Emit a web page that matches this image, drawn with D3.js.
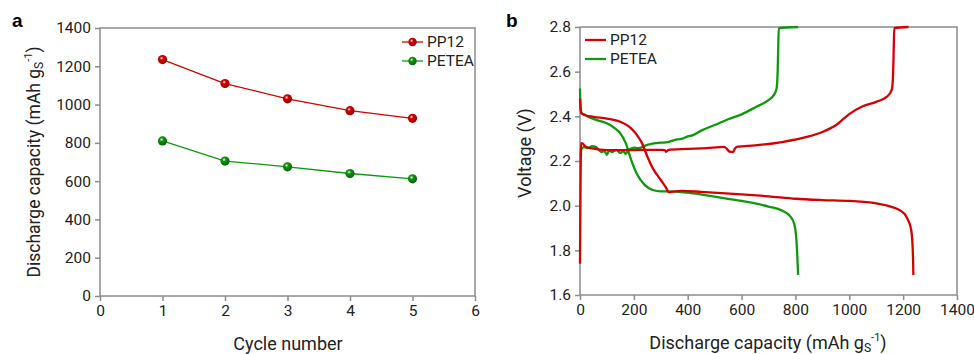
<!DOCTYPE html>
<html>
<head>
<meta charset="utf-8">
<script src="https://cdn.jsdelivr.net/npm/d3@7"></script>
<style>
  body { margin: 0; background: #fff; }
  svg { font-family: Roboto, "Noto Sans", sans-serif; }
</style>
</head>
<body>
<div class="container"></div>
<script>
// ---- data: panel a (capacity per cycle) ----
const cycles = [1, 2, 3, 4, 5];
const capPP12 = [1235, 1110, 1030, 968, 928];
const capPETEA = [810, 705, 675, 640, 612];
const seriesNames = ["PP12", "PETEA"];

// ---- data: panel b (voltage profiles), [capacity, voltage] ----
const pp12Discharge = [[0, 2.48], [2, 2.44], [5, 2.415], [20, 2.405], [50, 2.398], [100, 2.39], [150, 2.376], [180, 2.356],
  [200, 2.333], [215, 2.31], [230, 2.28], [250, 2.22], [270, 2.168], [300, 2.115], [320, 2.08], [330, 2.06],
  [345, 2.063], [380, 2.066], [450, 2.062], [600, 2.051], [700, 2.042], [800, 2.031], [900, 2.025], [1000, 2.021],
  [1100, 2.01], [1150, 1.997], [1190, 1.978], [1210, 1.955], [1222, 1.925], [1230, 1.89], [1235, 1.82], [1237, 1.75], [1238, 1.69]];
const pp12Charge = [[0, 1.74], [2, 2.1], [4, 2.28], [10, 2.278], [20, 2.265], [50, 2.255], [100, 2.249], [200, 2.249],
  [300, 2.25], [315, 2.249], [320, 2.241], [328, 2.25], [400, 2.254], [470, 2.258], [535, 2.263], [545, 2.255],
  [555, 2.242], [568, 2.24], [575, 2.255], [585, 2.264], [650, 2.27], [750, 2.285], [850, 2.31], [900, 2.33],
  [950, 2.36], [1000, 2.41], [1050, 2.445], [1100, 2.465], [1140, 2.488], [1158, 2.52], [1163, 2.6], [1165, 2.7],
  [1167, 2.795], [1220, 2.8]];
const peteaDischarge = [[0, 2.525], [2, 2.44], [6, 2.415], [20, 2.405], [50, 2.388], [100, 2.369], [130, 2.346],
  [150, 2.324], [170, 2.28], [190, 2.205], [210, 2.145], [240, 2.093], [270, 2.07], [300, 2.064], [330, 2.064],
  [400, 2.058], [500, 2.04], [600, 2.021], [700, 1.996], [750, 1.978], [780, 1.953], [795, 1.92], [802, 1.87],
  [806, 1.8], [810, 1.69]];
const peteaCharge = [[2, 2.22], [6, 2.255], [15, 2.262], [30, 2.258], [45, 2.266], [60, 2.262], [70, 2.25], [80, 2.24],
  [90, 2.245], [100, 2.228], [108, 2.246], [120, 2.24], [135, 2.25], [150, 2.236], [160, 2.244], [170, 2.232],
  [180, 2.25], [190, 2.256], [200, 2.26], [215, 2.257], [250, 2.272], [300, 2.282], [320, 2.283], [350, 2.294],
  [380, 2.3], [400, 2.31], [420, 2.316], [450, 2.336], [500, 2.361], [550, 2.387], [600, 2.409], [650, 2.44],
  [700, 2.473], [720, 2.496], [730, 2.525], [734, 2.6], [736, 2.7], [738, 2.795], [810, 2.8]];

// ticks
const aXTicks = [0, 1, 2, 3, 4, 5, 6];
const aYTicks = [0, 200, 400, 600, 800, 1000, 1200, 1400];
const bXTicks = [0, 200, 400, 600, 800, 1000, 1200, 1400];
const bYTicks = [1.6, 1.8, 2.0, 2.2, 2.4, 2.6, 2.8];

const width = 974, height = 354;
const red = "#d50000", green = "#0e980e";
const axisGray = "#8c8c8c";

const svg = d3.select(".container")
  .append("svg")
  .attr("width", width)
  .attr("height", height);

// sphere-like marker gradients
const defs = svg.append("defs");
function sphere(id, base, dark) {
  const g = defs.append("radialGradient").attr("id", id)
    .attr("cx", "40%").attr("cy", "35%").attr("r", "65%");
  g.append("stop").attr("offset", "0%").attr("stop-color", "#fff");
  g.append("stop").attr("offset", "30%").attr("stop-color", base);
  g.append("stop").attr("offset", "100%").attr("stop-color", dark);
}
sphere("gRed", red, "#9a0000");
sphere("gGreen", green, "#066006");

// draw a framed axes box with outward ticks
function frame(x, y, xTicks, yTicks, xFmt, yFmt) {
  const [x0, x1] = x.range();
  const [y0, y1] = y.range();
  svg.append("rect")
    .attr("x", x0).attr("y", y1)
    .attr("width", x1 - x0).attr("height", y0 - y1)
    .attr("fill", "none").attr("stroke", axisGray).attr("stroke-width", 1.5);

  const xa = svg.append("g")
    .attr("transform", `translate(0,${y0})`)
    .call(d3.axisBottom(x).tickValues(xTicks).tickFormat(xFmt).tickSizeOuter(0).tickSize(5).tickPadding(4));
  const ya = svg.append("g")
    .attr("transform", `translate(${x0},0)`)
    .call(d3.axisLeft(y).tickValues(yTicks).tickFormat(yFmt).tickSizeOuter(0).tickSize(5).tickPadding(4));
  [xa, ya].forEach(a => {
    a.select(".domain").remove();
    a.selectAll("line").attr("stroke", axisGray).attr("stroke-width", 1.5);
    a.selectAll("text").attr("font-size", "15.5px").attr("fill", "#222")
      .attr("font-family", "Roboto, sans-serif");
  });
}

// label with g_S^-1 unit
function capLabel(t) {
  t.append("tspan").text("Discharge capacity (mAh g");
  t.append("tspan").text("S").attr("font-size", "12px").attr("dy", "3");
  t.append("tspan").text("-1").attr("font-size", "11px").attr("dy", "-11");
  t.append("tspan").text(")").attr("dy", "8");
}

// ---------------- panel a ----------------
const ax = d3.scaleLinear().domain([0, 6]).range([100, 475]);
const ay = d3.scaleLinear().domain([0, 1400]).range([296, 28]);
frame(ax, ay, aXTicks, aYTicks, d => d, d => d);

const lineA = d3.line().x((d, i) => ax(cycles[i])).y(d => ay(d));
[[capPP12, red, "gRed"], [capPETEA, green, "gGreen"]].forEach(([vals, col, grad]) => {
  svg.append("path").datum(vals)
    .attr("fill", "none").attr("stroke", col).attr("stroke-width", 1.3)
    .attr("d", lineA);
  svg.append("g").selectAll("circle").data(vals).join("circle")
    .attr("cx", (d, i) => ax(cycles[i])).attr("cy", d => ay(d))
    .attr("r", 4.6).attr("fill", `url(#${grad})`);
});

// legend a
const legA = svg.append("g").attr("transform", "translate(402,42)");
seriesNames.forEach((n, i) => {
  const col = i === 0 ? red : green;
  const g = legA.append("g").attr("transform", `translate(0,${i * 19})`);
  g.append("line").attr("x1", 0).attr("x2", 21).attr("stroke", col).attr("stroke-width", 1.3);
  g.append("circle").attr("cx", 10.5).attr("r", 4.2).attr("fill", `url(#${i === 0 ? "gRed" : "gGreen"})`);
  g.append("text").attr("x", 25).attr("dy", "0.35em").attr("font-size", "15.5px").attr("fill", "#222").text(n);
});

svg.append("text").attr("x", 12).attr("y", 27).attr("font-size", "19px").attr("font-weight", "bold")
  .attr("font-family", "Arial, 'Liberation Sans', sans-serif").text("a");
svg.append("text").attr("text-anchor", "middle").attr("x", 288).attr("y", 350)
  .attr("font-size", "18px").attr("fill", "#222").text("Cycle number");
svg.append("text").attr("text-anchor", "middle")
  .attr("transform", "translate(40,162) rotate(-90)")
  .attr("font-size", "17.5px").attr("fill", "#222").call(capLabel);

// ---------------- panel b ----------------
const bx = d3.scaleLinear().domain([0, 1400]).range([580, 957]);
const by = d3.scaleLinear().domain([1.6, 2.8]).range([295, 27]);
frame(bx, by, bXTicks, bYTicks, d => d, d3.format(".1f"));

const lineB = d3.line().x(d => bx(d[0])).y(d => by(d[1])).curve(d3.curveMonotoneX);
[[peteaDischarge, green], [peteaCharge, green], [pp12Discharge, red], [pp12Charge, red]]
  .forEach(([pts, col]) => {
    svg.append("path").datum(pts)
      .attr("fill", "none").attr("stroke", col).attr("stroke-width", 2.3)
      .attr("stroke-linejoin", "round")
      .attr("d", lineB);
  });

// legend b
const legB = svg.append("g").attr("transform", "translate(585,40)");
seriesNames.forEach((n, i) => {
  const g = legB.append("g").attr("transform", `translate(0,${i * 19})`);
  g.append("line").attr("x1", 0).attr("x2", 21).attr("stroke", i === 0 ? red : green).attr("stroke-width", 2.3);
  g.append("text").attr("x", 25).attr("dy", "0.35em").attr("font-size", "15.5px").attr("fill", "#222").text(n);
});

svg.append("text").attr("x", 506).attr("y", 27).attr("font-size", "19px").attr("font-weight", "bold")
  .attr("font-family", "Arial, 'Liberation Sans', sans-serif").text("b");
svg.append("text").attr("text-anchor", "middle").attr("x", 768).attr("y", 349)
  .attr("font-size", "18px").attr("fill", "#222").call(capLabel);
svg.append("text").attr("text-anchor", "middle")
  .attr("transform", "translate(531,153) rotate(-90)")
  .attr("font-size", "18px").attr("fill", "#222").text("Voltage (V)");
</script>
</body>
</html>
